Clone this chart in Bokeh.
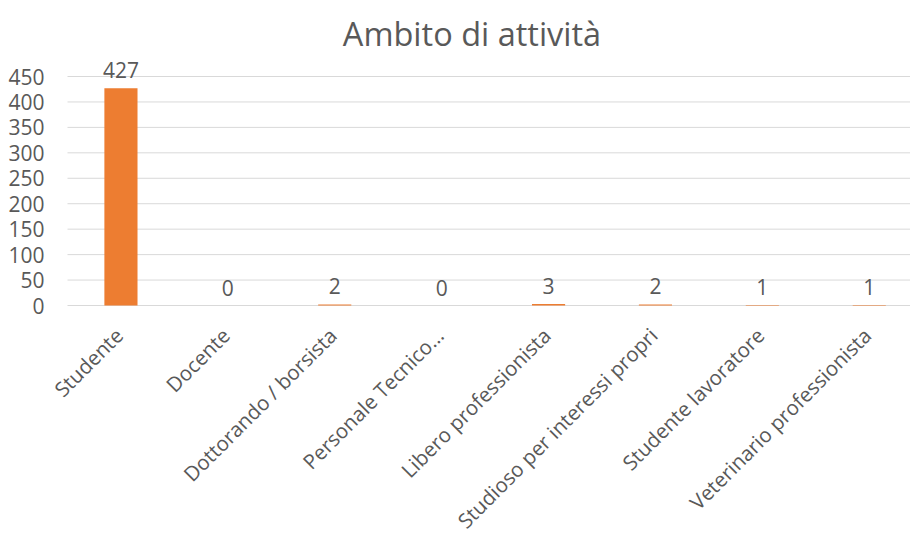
import math
from bokeh.plotting import figure
from bokeh.models import ColumnDataSource, FixedTicker, Range1d
from bokeh.embed import file_html
from bokeh.resources import INLINE
from bokeh.core.properties import value

categories = ["Studente", "Docente", "Dottorando / borsista", "Personale Tecnico…",
              "Libero professionista", "Studioso per interessi propri",
              "Studente lavoratore", "Veterinario professionista"]
counts = [427, 0, 2, 0, 3, 2, 1, 1]
y_ticks = [0, 50, 100, 150, 200, 250, 300, 350, 400, 450]
title_text = "Ambito di attività"

FONT = "Open Sans"
TXT = "#595959"

# layout (pixels)
W, H = 910, 533
LEFT = 67            # pixel column of the plot area's left edge
ZERO_PX = 305        # pixel row of value 0
TOP_TICK_PX = 76     # pixel row of value 450
CAT_PX = 106.9       # width of one category in pixels
TITLE_X_PX, TITLE_BASE_PX = 471.5, 33

k = (ZERO_PX - TOP_TICK_PX) / (y_ticks[-1] - y_ticks[0])
y_end = ZERO_PX / k
y_start = -(H - ZERO_PX) / k
x_left = -0.5
x_start = x_left - LEFT / CAT_PX
x_end = x_start + W / CAT_PX

xs = list(range(len(categories)))
src = ColumnDataSource(dict(x=xs, top=counts, label=[str(c) for c in counts],
                            cat=categories, zero=[0] * len(xs)))

p = figure(width=W, height=H, x_range=Range1d(x_start, x_end), y_range=Range1d(y_start, y_end),
           output_backend="svg", toolbar_location=None, x_axis_location=None,
           min_border_left=0, min_border_right=0, min_border_top=0, min_border_bottom=0)
p.outline_line_color = None
p.background_fill_color = "white"
p.border_fill_color = "white"

# gridlines only across the plot area
p.ygrid.visible = False
p.xgrid.visible = False
p.segment(x0=[x_left] * len(y_ticks), x1=[x_end] * len(y_ticks), y0=y_ticks, y1=y_ticks,
          line_color="#D9D9D9", line_width=1)

p.vbar(x="x", top="top", width=0.31, bottom=0, source=src,
       fill_color="#ED7D31", line_color=None)
# data labels
p.text(x="x", y="top", text="label", source=src, text_align="center",
       text_baseline="alphabetic", y_offset=-18, text_font=value(FONT),
       text_font_size="21px", text_color=TXT)
# category labels (rotated)
p.text(x="x", y="zero", text="cat", source=src, text_align="right",
       text_baseline="middle", angle=math.pi / 4, x_offset=-2, y_offset=26,
       text_font=value(FONT), text_font_size="20.5px", text_color=TXT)
# title
p.text(x=[x_start + TITLE_X_PX / CAT_PX], y=[(ZERO_PX - TITLE_BASE_PX) / k],
       text=[title_text], text_align="center", text_baseline="alphabetic",
       text_font=value(FONT), text_font_size="32.5px", text_color=TXT)

p.yaxis.fixed_location = x_left
p.yaxis.ticker = FixedTicker(ticks=y_ticks)
p.yaxis.axis_line_color = None
p.yaxis.major_tick_line_color = None
p.yaxis.minor_tick_line_color = None
p.yaxis.major_tick_out = 0
p.yaxis.major_label_standoff = 23
p.yaxis.major_label_text_font = FONT
p.yaxis.major_label_text_font_size = "21px"
p.yaxis.major_label_text_color = TXT

open("out.html", "w").write(file_html(p, INLINE))
